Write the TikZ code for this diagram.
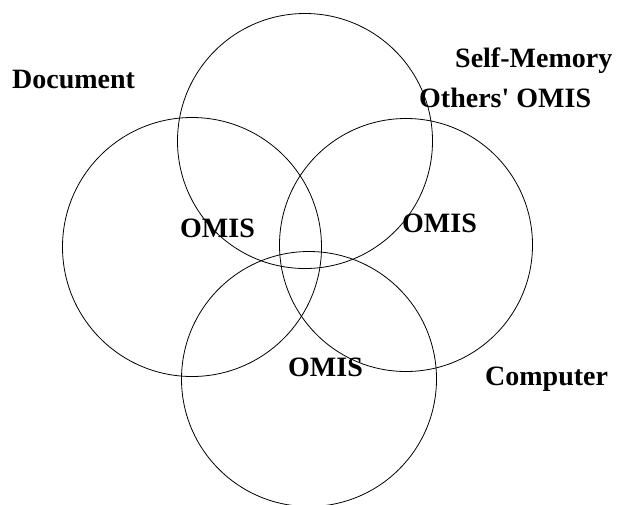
\documentclass[tikz,border=0pt]{standalone}
\usepackage{fontspec}
\setmainfont{Liberation Serif}
\usepackage{tikz}
\usetikzlibrary{positioning}

\begin{document}
\begin{tikzpicture}[x=1pt, y=-1pt]
        \tikzstyle{ring} = [circle, draw=black, line width=0.8pt, inner sep=0pt]
        \tikzstyle{lbl} = [anchor=base west, inner sep=0pt, font=\fontsize{28}{30}\selectfont\bfseries]
        \useasboundingbox (0,0) rectangle (620,504);

        % Circles
        \node (top) [ring, minimum size=255pt] at (305,141) {};
        \node (left) [ring, minimum size=259pt] at (192,247) {};
        \node (right) [ring, minimum size=253pt] at (406,245) {};
        \node (bottom) [ring, minimum size=255pt] at (309,379) {};

        % Labels
        \node (doc) [lbl] at (12,88) {Document};
        \node (self) [lbl] at (455,67) {Self-Memory};
        \node (others) [lbl] at (419,107) {Others\textquotesingle{} OMIS};
        \node (comp) [lbl] at (485,385) {Computer};
        \node (omisl) [lbl] at (180,237) {OMIS};
        \node (omisr) [lbl] at (402,232) {OMIS};
        \node (omisb) [lbl] at (288,376) {OMIS};
    \end{tikzpicture}
\end{document}
